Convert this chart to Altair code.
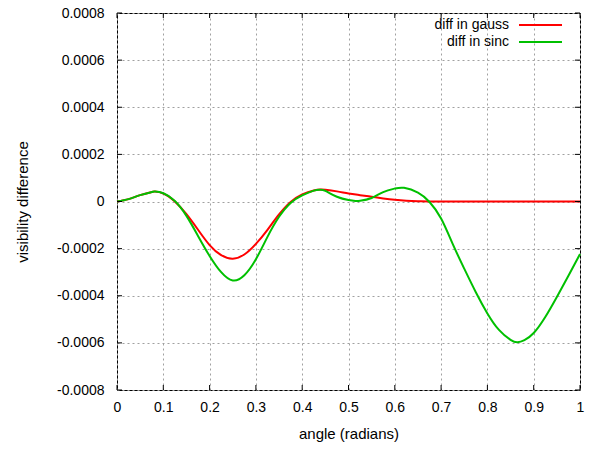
import altair as alt
import pandas as pd

# ---- data ----
x_gauss = [0, 0.025, 0.05, 0.075, 0.082, 0.1, 0.125, 0.15, 0.175, 0.2, 0.225, 0.25,
           0.275, 0.3, 0.325, 0.35, 0.375, 0.4, 0.425, 0.44, 0.45, 0.475, 0.5, 0.525,
           0.55, 0.575, 0.6, 0.625, 0.65, 0.675, 0.7, 0.75, 0.8, 0.85, 0.9, 0.95, 1.0]
y_gauss = [0, 0.1e-4, 0.27e-4, 0.4e-4, 0.42e-4, 0.34e-4, 0.0, -0.54e-4, -1.2e-4, -1.85e-4,
           -2.28e-4, -2.43e-4, -2.25e-4, -1.8e-4, -1.2e-4, -0.55e-4, -0.02e-4, 0.3e-4,
           0.47e-4, 0.51e-4, 0.5e-4, 0.43e-4, 0.34e-4, 0.27e-4, 0.2e-4, 0.13e-4, 0.07e-4,
           0.03e-4, 0.01e-4, 0, 0, 0, 0, 0, 0, 0, 0]

x_sinc = [0, 0.025, 0.05, 0.075, 0.082, 0.1, 0.125, 0.15, 0.175, 0.2, 0.225, 0.25,
          0.275, 0.3, 0.325, 0.35, 0.375, 0.4, 0.425, 0.438, 0.45, 0.475, 0.5, 0.515,
          0.525, 0.55, 0.575, 0.6, 0.62, 0.65, 0.675, 0.7, 0.725, 0.75, 0.775, 0.8,
          0.825, 0.85, 0.865, 0.88, 0.9, 0.925, 0.95, 0.975, 1.0]
y_sinc = [0, 0.1e-4, 0.27e-4, 0.4e-4, 0.42e-4, 0.35e-4, 0.02e-4, -0.61e-4, -1.46e-4,
          -2.31e-4, -3.0e-4, -3.35e-4, -3.13e-4, -2.45e-4, -1.5e-4, -0.65e-4, -0.06e-4,
          0.26e-4, 0.46e-4, 0.5e-4, 0.45e-4, 0.2e-4, 0.06e-4, 0.02e-4, 0.03e-4, 0.15e-4,
          0.4e-4, 0.55e-4, 0.58e-4, 0.38e-4, -0.02e-4, -0.72e-4, -1.8e-4, -2.85e-4,
          -3.85e-4, -4.75e-4, -5.45e-4, -5.87e-4, -5.97e-4, -5.88e-4, -5.58e-4, -4.9e-4,
          -4.05e-4, -3.15e-4, -2.23e-4]

series_names = ["diff in gauss", "diff in sinc"]
series_colors = ["#ff0000", "#00c000"]
x_ticks = [0, 0.1, 0.2, 0.3, 0.4, 0.5, 0.6, 0.7, 0.8, 0.9, 1.0]
y_ticks = [-0.0008, -0.0006, -0.0004, -0.0002, 0, 0.0002, 0.0004, 0.0006, 0.0008]

W, H = 463, 377
FONT = "Liberation Sans"

df = pd.concat([
    pd.DataFrame({"x": x_gauss, "y": y_gauss, "series": series_names[0], "order": range(len(x_gauss))}),
    pd.DataFrame({"x": x_sinc, "y": y_sinc, "series": series_names[1], "order": range(len(x_sinc))}),
])
df_xt = pd.DataFrame({"t": x_ticks})
df_yt = pd.DataFrame({"t": y_ticks})
df_leg = pd.DataFrame({"name": series_names})

xscale = alt.Scale(domain=[0, 1], nice=False, zero=False)
yscale = alt.Scale(domain=[-0.0008, 0.0008], nice=False, zero=False)

y_label_expr = ("datum.value == 0 ? '0' : (datum.value < 0 ? '-' : '') + "
                "format(abs(datum.value), '.4f')")

lines = alt.Chart(df).mark_line(strokeWidth=2, interpolate="natural").encode(
    x=alt.X("x:Q", scale=xscale,
            axis=alt.Axis(values=x_ticks, format="~g", title="angle (radians)",
                          labelPadding=10, titlePadding=12, labelFlush=False)),
    y=alt.Y("y:Q", scale=yscale,
            axis=alt.Axis(values=y_ticks, labelExpr=y_label_expr,
                          title="visibility difference", labelPadding=13,
                          titlePadding=26, labelFlush=False)),
    color=alt.Color("series:N", scale=alt.Scale(domain=series_names, range=series_colors),
                    legend=None),
    order="order:Q",
    detail="series:N",
)

TL = 5
tick_b = alt.Chart(df_xt).mark_rule(color="black", strokeWidth=1).encode(
    x=alt.X("t:Q", scale=xscale), y=alt.value(H), y2=alt.value(H - TL))
tick_t = alt.Chart(df_xt).mark_rule(color="black", strokeWidth=1).encode(
    x=alt.X("t:Q", scale=xscale), y=alt.value(0), y2=alt.value(TL))
tick_l = alt.Chart(df_yt).mark_rule(color="black", strokeWidth=1).encode(
    y=alt.Y("t:Q", scale=yscale), x=alt.value(0), x2=alt.value(TL))
tick_r = alt.Chart(df_yt).mark_rule(color="black", strokeWidth=1).encode(
    y=alt.Y("t:Q", scale=yscale), x=alt.value(W), x2=alt.value(W - TL))

leg_layers = []
for i, (name, col) in enumerate(zip(series_names, series_colors)):
    ypos = 12 + i * 17
    leg_layers.append(
        alt.Chart(df_leg).transform_filter(alt.datum.name == name).mark_text(
            align="right", baseline="middle", font=FONT, fontSize=14, color="black"
        ).encode(text="name:N", x=alt.value(392), y=alt.value(ypos))
    )
    leg_layers.append(
        alt.Chart(df_leg).transform_filter(alt.datum.name == name).mark_rule(
            color=col, strokeWidth=2
        ).encode(x=alt.value(402), x2=alt.value(445), y=alt.value(ypos))
    )

chart = alt.layer(lines, tick_b, tick_t, tick_l, tick_r, *leg_layers).properties(
    width=W, height=H,
    autosize=alt.AutoSizeParams(type="none"),
    padding={"left": 117, "top": 13, "right": 15, "bottom": 60},
    background="white",
).configure_view(
    stroke="black", strokeWidth=1
).configure_axis(
    domain=False, ticks=False, grid=True,
    gridColor="#a0a0a0", gridDash=[2, 3], gridWidth=1,
    labelFont=FONT, labelFontSize=14, labelColor="black",
    titleFont=FONT, titleFontSize=15, titleFontWeight="normal", titleColor="black",
)

chart.save("out.html", embed_options={"renderer": "svg", "actions": False})
